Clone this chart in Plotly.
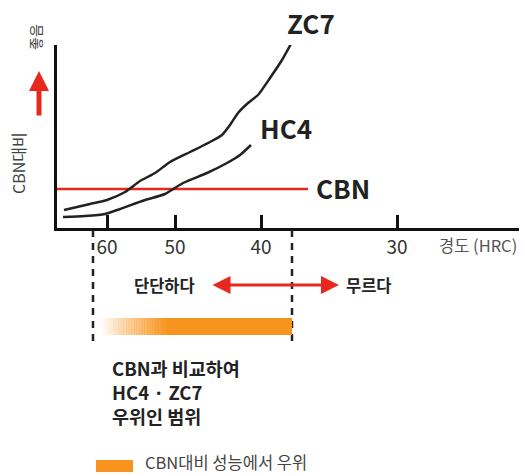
import plotly.graph_objects as go

# ---- data (x: position along hardness axis, y: performance vs CBN, arbitrary units) ----
hardness_ticks = ["60", "50", "40", "30"]
hardness_tick_pos = [107, 175, 261, 397]

zc7_x = [64, 90, 107, 125, 140, 155, 170, 190, 208, 222, 230, 238, 248, 258, 270, 282, 292]
zc7_y = [18, 24, 28, 36, 47, 55, 66, 76, 85, 93, 103, 115, 125, 133, 150, 168, 186]

hc4_x = [63, 85, 105, 120, 145, 165, 183, 207, 227, 240, 251]
hc4_y = [11, 12, 14, 19, 28, 34, 45, 55, 65, 73, 83]

cbn_x = [57, 308]
cbn_y = [39, 39]

dash_x = [93, 292]
range_x = [100, 292]

text_block = ["CBN과 비교하여", "HC4 · ZC7", "우위인 범위"]

FONT = "Noto Sans CJK KR"
INK = "#222222"
RED = "#E8281E"
ORANGE = "#F7941D"

# layout geometry (pixels)
L, R_EDGE, T, B_EDGE = 57, 519, 45, 228
W, H = 525, 476


def px_x(p):
    return (p - L) / (R_EDGE - L)


def px_y(p):
    return (B_EDGE - p) / (B_EDGE - T)


fig = go.Figure()
fig.add_trace(go.Scatter(x=cbn_x, y=cbn_y, mode="lines",
                         line=dict(color=RED, width=2.5), hoverinfo="skip"))
fig.add_trace(go.Scatter(x=zc7_x, y=zc7_y, mode="lines",
                         line=dict(color=INK, width=2.5, shape="spline", smoothing=0.6),
                         hoverinfo="skip"))
fig.add_trace(go.Scatter(x=hc4_x, y=hc4_y, mode="lines",
                         line=dict(color=INK, width=2.5, shape="spline", smoothing=0.6),
                         hoverinfo="skip"))

shapes = []
# dashed verticals below the axis
for dx in dash_x:
    shapes.append(dict(type="line", xref="paper", yref="paper",
                       x0=px_x(dx), x1=px_x(dx), y0=px_y(230), y1=px_y(343),
                       line=dict(color=INK, width=2.5, dash="7px,6px")))
# gradient orange bar
g0, g1 = range_x[0], 168
n = 26
step = (g1 - g0) / n
for i in range(n):
    x0 = g0 + i * step
    shapes.append(dict(type="rect", xref="paper", yref="paper",
                       x0=px_x(x0), x1=px_x(x0 + step + 0.5), y0=px_y(335), y1=px_y(318),
                       fillcolor=ORANGE, opacity=(i + 0.5) / n, line=dict(width=0)))
shapes.append(dict(type="rect", xref="paper", yref="paper",
                   x0=px_x(g1), x1=px_x(range_x[1]), y0=px_y(335), y1=px_y(318),
                   fillcolor=ORANGE, line=dict(width=0)))
# legend swatch
shapes.append(dict(type="rect", xref="paper", yref="paper",
                   x0=px_x(96), x1=px_x(133), y0=px_y(472), y1=px_y(460),
                   fillcolor=ORANGE, line=dict(width=0)))

ann = []


def text(x, y, s, size, color=INK, bold=False, anchor="center", angle=0):
    ann.append(dict(xref="paper", yref="paper", x=px_x(x), y=px_y(y), text=s,
                    showarrow=False, xanchor=anchor, yanchor="middle", textangle=angle,
                    borderpad=0,
                    font=dict(family=FONT, size=size, color=color,
                              weight=700 if bold else 400)))


text(311, 22, "ZC7", 26, bold=True)
text(286, 128, "HC4", 26, bold=True)
text(343, 187, "CBN", 26, bold=True)
text(478, 245, "경도 (HRC)", 16.5, color="#555555")
text(18, 163, "CBN대비", 16, color="#444444", angle=-90)
text(35, 37, "좋음", 14, color="#444444", angle=-90)
text(164, 285, "단단하다", 16.5, bold=True)
text(369, 285, "무르다", 16.5, bold=True)
for i, line in enumerate(text_block):
    text(111, 368 + 24 * i, line, 18.5, bold=True, anchor="left")
text(144, 462, "CBN대비 성능에서 우위", 16.5, color="#444444", anchor="left")

# red up arrow
ann.append(dict(xref="paper", yref="paper", axref="pixel", ayref="pixel",
                x=px_x(39), y=px_y(71), ax=0, ay=46, text="", showarrow=True,
                arrowhead=2, arrowsize=0.8, arrowwidth=5, arrowcolor=RED))
# red double arrow
ann.append(dict(xref="paper", yref="paper", x=px_x(339), y=px_y(285),
                ax=-128, ay=0, text="", showarrow=True, arrowside="end+start",
                arrowhead=2, startarrowhead=2, arrowsize=1.2, startarrowsize=1.2,
                arrowwidth=3, arrowcolor=RED))

fig.update_layout(
    width=W, height=H, showlegend=False,
    margin=dict(l=L, r=W - R_EDGE, t=T, b=H - B_EDGE, pad=0),
    paper_bgcolor="white", plot_bgcolor="white",
    shapes=shapes, annotations=ann,
    xaxis=dict(range=[L, R_EDGE], showgrid=False, zeroline=False,
               showline=True, linecolor="#111111", linewidth=2.5,
               ticks="inside", ticklen=13, tickwidth=2.5, tickcolor="#111111",
               tickvals=hardness_tick_pos, ticktext=hardness_ticks,
               tickfont=dict(family=FONT, size=19, color="#333333"),
               fixedrange=True),
    yaxis=dict(range=[0, B_EDGE - T], showgrid=False, zeroline=False,
               showline=True, linecolor="#111111", linewidth=2.5,
               showticklabels=False, ticks="", fixedrange=True),
)

fig.write_html("out.html", config={"displayModeBar": False},
               post_script="document.body.style.margin='0';document.body.style.overflow='hidden';")
